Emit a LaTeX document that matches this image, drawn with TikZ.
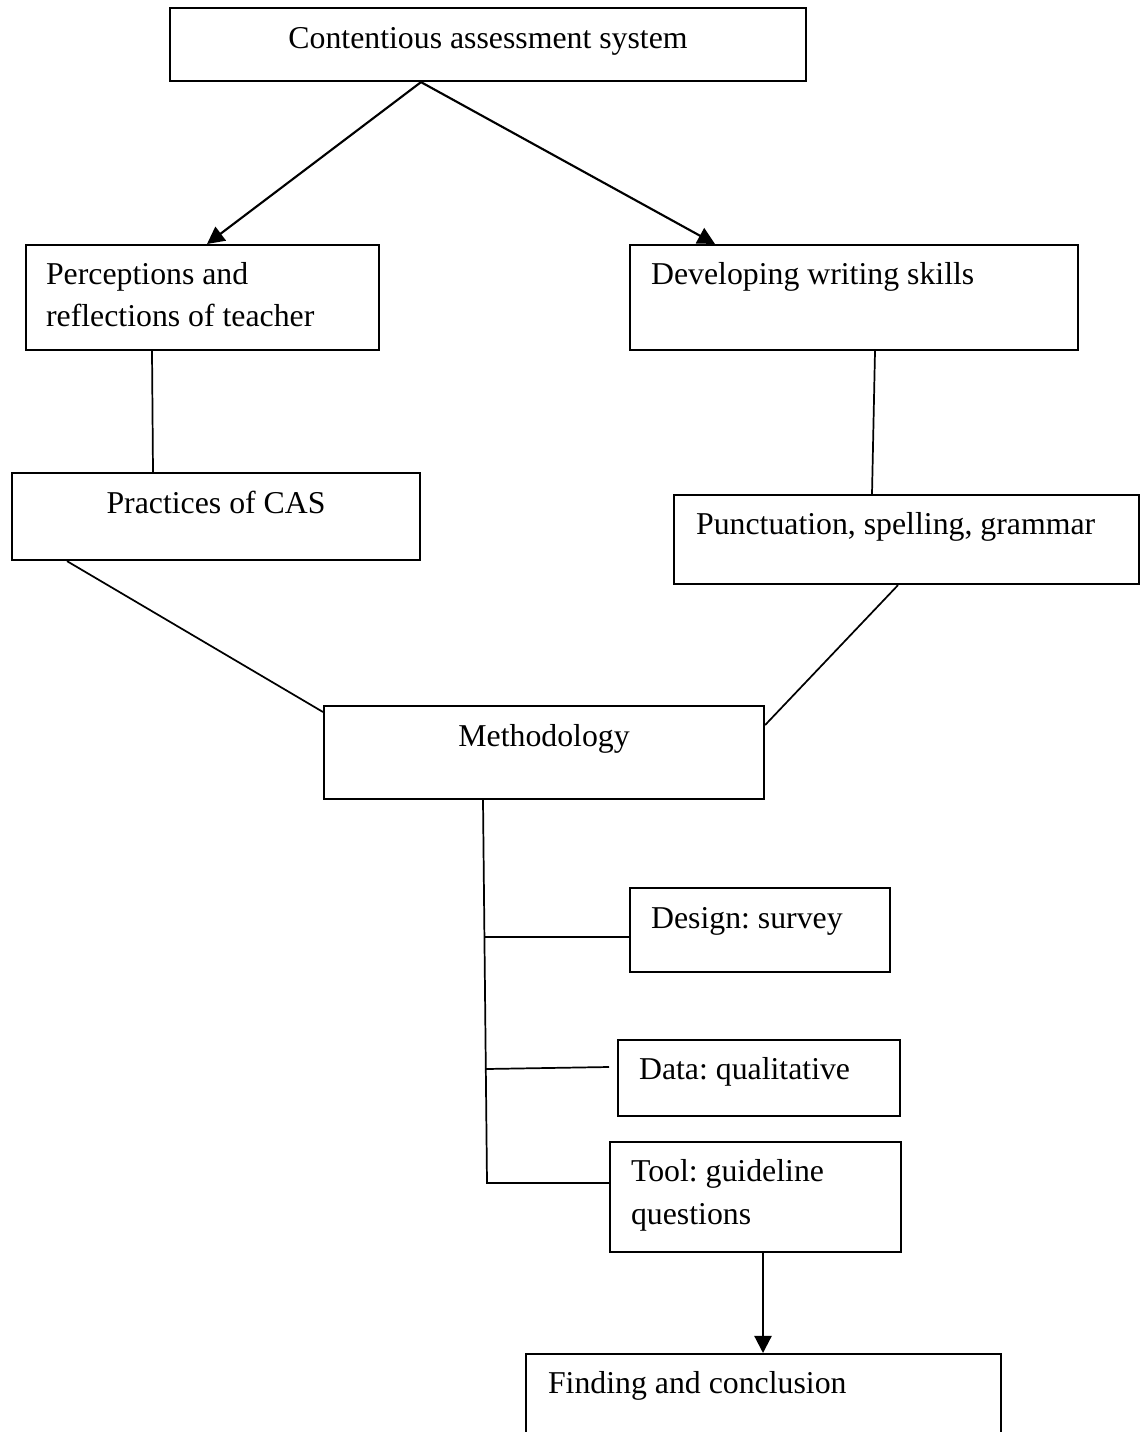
\documentclass[tikz,border=0pt]{standalone}
\usepackage{fontspec}
\setmainfont{Liberation Serif}
\usetikzlibrary{arrows.meta,calc}
\frenchspacing
\newlength\px
\setlength\px{0.3774pt}
% left-aligned box content: width, height, left offset, first baseline, text
\newcommand\bxl[5]{\parbox[c][#2\px][t]{#1\px}{\frenchspacing\raggedright\leftskip=#3\px\rule{0pt}{#4\px}#5}}
% centred box content: width, height, first baseline, text
\newcommand\bxc[4]{\parbox[c][#2\px][t]{#1\px}{\frenchspacing\centering\rule{0pt}{#3\px}#4}}
\tikzset{
  box/.style={draw, line width=0.8pt, inner sep=0pt, anchor=north west,
    font=\fontsize{12pt}{16.2pt}\selectfont},
  link/.style={line width=0.65pt},
  arr/.style={line width=0.8pt, -{Triangle[length=6.5pt,width=6.5pt]}}
}
\begin{document}
\begin{tikzpicture}[x=\px, y=-\px]
\useasboundingbox (0,0) rectangle (1143,1432);
\fill[white] (0,0) rectangle (1143,1432);
\clip (0,0) rectangle (1143,1432);

\node[box] (cas) at (169,7)   {\bxc{636}{73}{40}{Contentious assessment system}};
\node[box] (per) at (25,244)  {\bxl{353}{105}{20}{39}{Perceptions and\\reflections of teacher}};
\node[box] (dev) at (629,244) {\bxl{448}{105}{21}{39}{Developing writing skills}};
\node[box] (pra) at (11,472)  {\bxc{408}{87}{40}{Practices of CAS}};
\node[box] (pun) at (673,494) {\bxl{465}{89}{22}{39}{Punctuation, spelling, grammar}};
\node[box] (met) at (323,705) {\bxc{440}{93}{40}{Methodology}};
\node[box] (des) at (629,887) {\bxl{260}{84}{21}{40}{Design: survey}};
\node[box] (dat) at (617,1039) {\bxl{282}{76}{21}{39}{Data: qualitative}};
\node[box] (too) at (609,1141) {\bxl{291}{110}{21}{39}{Tool: guideline\\questions}};
\node[box] (fin) at (525,1353) {\bxl{475}{120}{22}{39}{Finding and conclusion}};

\coordinate (corner) at (487,1183);
\coordinate (b1) at (485,937);
\coordinate (b2) at (486,1069);
\coordinate (e2) at (609,1067);

\draw[arr] ($(cas.south west)+(252,0)$) -- ($(per.north west)+(182,0)$);
\draw[arr] ($(cas.south west)+(252,0)$) -- ($(dev.north west)+(86,0)$);
\draw[link] ($(per.south west)+(127,0)$) -- ($(pra.north west)+(142,0)$);
\draw[link] ($(dev.south west)+(246,0)$) -- ($(pun.north west)+(199,0)$);
\draw[link] ($(pra.south west)+(56,0)$) -- ($(met.north west)+(0,7)$);
\draw[link] ($(pun.south west)+(225,0)$) -- ($(met.north east)+(0,20)$);
\draw[link] ($(met.south west)+(160,0)$) -- (corner) -- ($(too.north west)+(0,42)$);
\draw[link] (b1) -- ($(des.north west)+(0,50)$);
\draw[link] (b2) -- (e2);
\draw[arr] ($(too.south west)+(154,0)$) -- ($(fin.north west)+(238,0)$);
\end{tikzpicture}
\end{document}
